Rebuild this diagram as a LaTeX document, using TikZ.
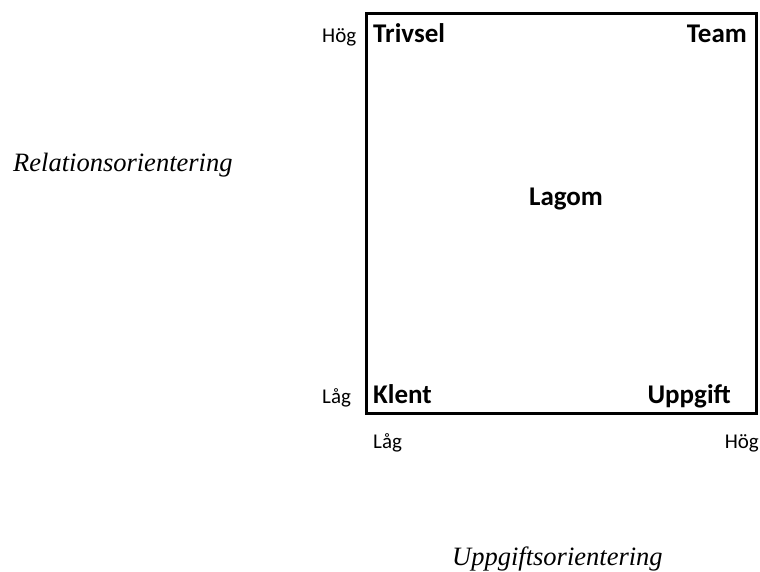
\documentclass[tikz,border=0pt]{standalone}
\usepackage{fontspec}
\newfontfamily\calibri{Carlito}
\newfontfamily\timesf{Liberation Serif}
\begin{document}
\begin{tikzpicture}[x=1pt,y=-1pt,
  lbl/.style={inner sep=0pt,font=\calibri\fontsize{21}{25}\selectfont},
  quad/.style={inner sep=0pt,font=\calibri\bfseries\fontsize{27}{32}\selectfont},
  axis/.style={inner sep=0pt,font=\timesf\itshape\fontsize{26.5}{31}\selectfont}]
\useasboundingbox (0,0) rectangle (760,572);
\draw[line width=3pt] (366,13.5) rectangle (756,413);
\node[lbl,anchor=base west] (hogL) at (322,43) {Hög};
\node[quad,anchor=base west] (trivsel) at (373,43) {Trivsel};
\node[quad,anchor=base east] (team) at (747,43) {Team};
\node[quad,anchor=base] (lagom) at (566,205) {Lagom};
\node[lbl,anchor=base west] (lagL) at (322,403) {Låg};
\node[quad,anchor=base west] (klent) at (373,403) {Klent};
\node[quad,anchor=base east] (uppgift) at (731,403) {Uppgift};
\node[lbl,anchor=base west] (lagB) at (373,448) {Låg};
\node[lbl,anchor=base east] (hogB) at (759,448) {Hög};
\node[axis,anchor=base west] (rel) at (13,172) {Relationsorientering};
\node[axis,anchor=base west] (upp) at (452,565) {Uppgiftsorientering};
\end{tikzpicture}
\end{document}
